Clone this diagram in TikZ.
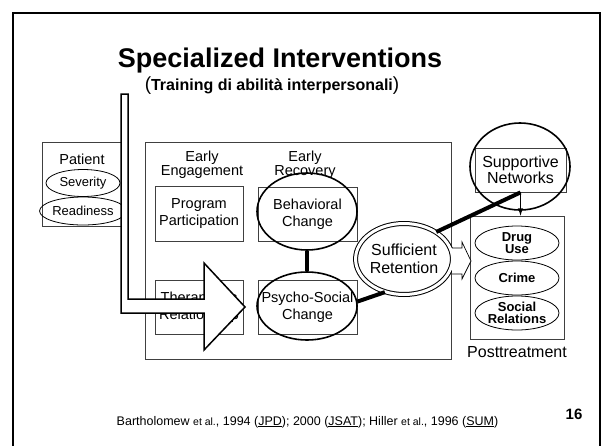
\documentclass[tikz,border=0pt]{standalone}
\usepackage{fontspec}
\setmainfont{Liberation Sans}
\usetikzlibrary{shapes, arrows, positioning, calc}
\newcommand{\fsz}[2]{\fontsize{#1}{#2}\selectfont}

\begin{document}
\begin{tikzpicture}[x=1pt, y=-1pt,
    every node/.style={inner sep=0pt, font=\fsz{14.5}{17}},
    frame/.style={draw, black!75, line width=0.8pt, text=black},
    oval/.style={ellipse, draw, line width=0.8pt},
    ring/.style={ellipse, draw, line width=1.6pt},
    link/.style={line width=4pt}]
    \useasboundingbox (0,0) rectangle (602,445);
    \draw[line width=2pt] (13,450) |- (600,13) -- (600,450);

    \node[anchor=base, font=\bfseries\fsz{27}{30}] (title) at (280,67) {Specialized Interventions};
    \node[anchor=base, font=\bfseries\fsz{16}{18}] (sub) at (272,90)
      {{\mdseries\fsz{19}{19}(}Training di abilità interpersonali{\mdseries\fsz{19}{19})}};

    \node[frame, minimum width=79, minimum height=84] (patient) at (81.5,184) {};
    \node (patlab) at (82,159) {Patient};
    \node[oval, minimum width=74, minimum height=27, font=\fsz{13}{14}] (sev) at (83,183) {Severity};
    \node[oval, minimum width=74, minimum height=28, font=\fsz{13}{14}] (ready) at (83,211) {Readiness};

    \node[frame, minimum width=306, minimum height=217] (stages) at (298,250.5) {};
    \node[align=center, font=\fsz{14.5}{12}] (engage) at (202,165) {Early\\Engagement};
    \node[align=center, font=\fsz{14.5}{12}] (recov) at (305,165) {Early\\Recovery};
    \node[frame, minimum width=88, minimum height=55, align=center] (prog) at (199,213.5) {Program\\Participation};
    \node[frame, minimum width=88, minimum height=54, align=center] (ther) at (199,307) {Therapeutic\\Relationship};
    \node[frame, minimum width=99, minimum height=54, align=center] (behbox) at (307.5,214) {Behavioral\\Change};
    \node[ring, minimum width=100, minimum height=77] (beh) at (307,211.5) {};
    \node[frame, minimum width=99, minimum height=54, align=center] (psybox) at (307.5,307) {Psycho-Social\\Change};
    \node[ring, minimum width=100, minimum height=68] (psy) at (307,306) {};

    \node[ellipse, draw, double, double distance=3pt, line width=1pt, minimum width=91, minimum height=71,
      align=center, font=\fsz{16}{18}] (suff) at (404,259) {Sufficient\\Retention};

    \node[frame, minimum width=91, minimum height=44, align=center, font=\fsz{16}{16}] (netbox) at (520.5,170) {Supportive\\Networks};
    \node[ring, minimum width=100, minimum height=87] (net) at (520,166.5) {};

    \node[frame, minimum width=94, minimum height=123] (post) at (517,277.5) {};
    \node[oval, minimum width=84, minimum height=34, align=center, font=\bfseries\fsz{13}{12}] (drug) at (517,243) {Drug\\Use};
    \node[oval, minimum width=84, minimum height=34, align=center, font=\bfseries\fsz{13}{12}] (crime) at (517,278) {Crime};
    \node[oval, minimum width=84, minimum height=34, align=center, font=\bfseries\fsz{13}{12.5}] (social) at (517,313) {Social\\Relations};
    \node[below=7pt of post, font=\fsz{16}{16}] (posttx) {Posttreatment};

    \draw[link] (beh) -- (psy);
    \draw[link] (psy.5) -- (suff.240);
    \draw[link] (suff.40) -- (netbox.south);
    \draw[-latex, line width=1.5pt] (netbox.south) -- (netbox.south |- post.north);

    \draw[line width=0.7pt, fill=white] (452,248) -- (462,248) -- (462,242) -- (471,261)
      -- (462,279) -- (462,274) -- (452,274);
    \draw[line width=1.5pt, fill=white] (121,94) -- (128,94) -- (128,299) -- (204,299) -- (204,263)
      -- (245,307) -- (204,350) -- (204,313) -- (121,313) -- cycle;

    \node[anchor=base, font=\fsz{12.5}{14}] (cite) at (307.5,425) {Bartholomew {\fsz{10.5}{12}et al.}, 1994
      (\underline{JPD}); 2000 (\underline{JSAT}); Hiller {\fsz{10.5}{12}et al.}, 1996 (\underline{SUM})};
    \node[font=\bfseries\fsz{15}{15}] (page) at (574,414) {16};
\end{tikzpicture}
\end{document}
